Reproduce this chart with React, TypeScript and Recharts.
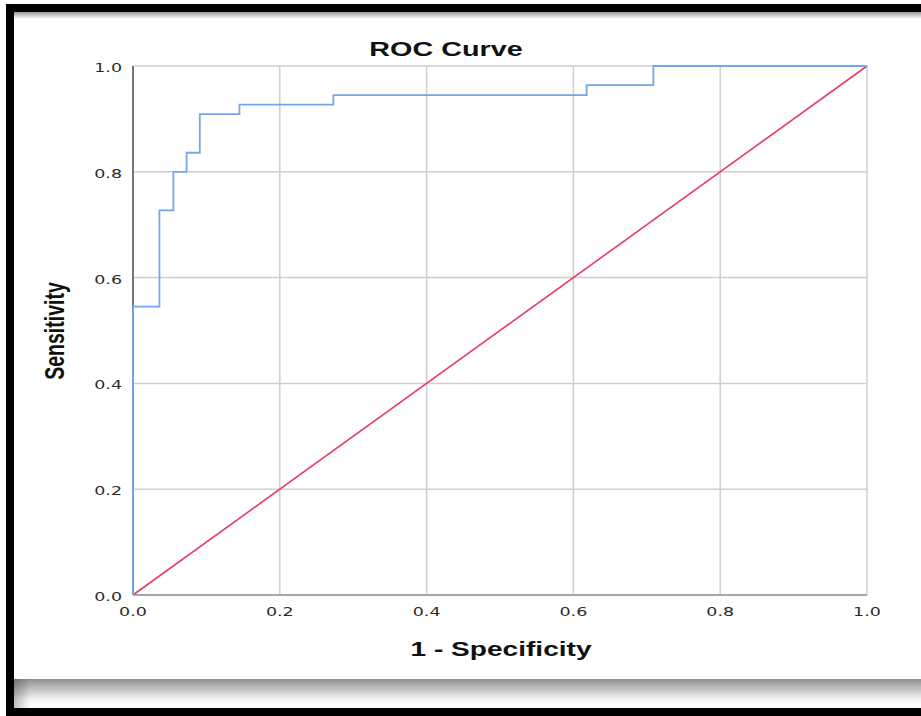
import { LineChart, Line, XAxis, YAxis, CartesianGrid, ReferenceLine } from 'recharts'

// ROC operating points (1 - specificity, sensitivity)
const fpr = [0, 0, 0.036, 0.055, 0.073, 0.091, 0.145, 0.273, 0.618, 0.709, 1]
const tpr = [0, 0.545, 0.727, 0.8, 0.836, 0.909, 0.927, 0.945, 0.964, 1, 1]
// reference diagonal
const refX = [0, 1]
const refY = [0, 1]
const ticks = [0, 0.2, 0.4, 0.6, 0.8, 1]

const rocData = fpr.map((x, i) => ({ x, y: tpr[i] }))
const refData = refX.map((x, i) => ({ x, y: refY[i] }))

const TICK_FONT = '"DejaVu Sans", sans-serif'
const TITLE_FONT = '"Liberation Sans", Arial, sans-serif'

function XTick({ x, y, payload }: any) {
  return (
    <text transform={`translate(${x},${y + 19}) scale(1.4,1)`} textAnchor="middle"
      fontFamily={TICK_FONT} fontSize={12.5} fill="#2a2a2a">
      {Number(payload.value).toFixed(1)}
    </text>
  )
}

function YTick({ x, y, payload }: any) {
  return (
    <text transform={`translate(${x - 9},${y + 6}) scale(1.4,1)`} textAnchor="end"
      fontFamily={TICK_FONT} fontSize={12.5} fill="#2a2a2a">
      {Number(payload.value).toFixed(1)}
    </text>
  )
}

const abs = (s: React.CSSProperties): React.CSSProperties => ({ position: 'absolute', ...s })

export default function App() {
  return (
    <div style={{ position: 'relative', width: 921, height: 716, background: '#fff', overflow: 'hidden' }}>
      <style>{'body{margin:0}'}</style>

      {/* frame */}
      <div style={abs({ left: 14, top: 12, width: 907, height: 7, background: 'linear-gradient(#9a9a9a, #fff)' })} />
      <div style={abs({ left: 14, top: 679, width: 907, height: 29, background: 'linear-gradient(#8e8e8e, #f4f4f4 70%, #fff)' })} />
      <div style={abs({ left: 14, top: 679, width: 16, height: 29, background: 'linear-gradient(90deg, rgba(0,0,0,0.25), rgba(0,0,0,0))' })} />
      <div style={abs({ left: 6, top: 4, width: 915, height: 8, background: '#000' })} />
      <div style={abs({ left: 6, top: 4, width: 8, height: 712, background: '#000' })} />
      <div style={abs({ left: 6, top: 708, width: 915, height: 8, background: '#000' })} />

      <div style={abs({ left: 0, top: 0 })}>
        <LineChart width={921} height={716} margin={{ top: 66, right: 54, bottom: 91, left: 0 }}>
          <CartesianGrid stroke="#cfcfcf" strokeWidth={1.5} />
          <XAxis type="number" dataKey="x" domain={[0, 1]} ticks={ticks} height={30}
            axisLine={{ stroke: '#a6a6a6', strokeWidth: 2 }} tickLine={false} tickSize={0}
            tick={<XTick />} interval={0} />
          <YAxis type="number" dataKey="y" domain={[0, 1]} ticks={ticks} width={133}
            axisLine={false} tickLine={false} tickSize={0}
            tick={<YTick />} interval={0} />
          <ReferenceLine x={0} stroke="#555" strokeWidth={1.5} />
          <Line data={refData} dataKey="y" type="linear" stroke="#e63d62" strokeWidth={1.6}
            dot={false} isAnimationActive={false} />
          <Line data={rocData} dataKey="y" type="stepAfter" stroke="#74a6ea" strokeWidth={1.8}
            dot={false} isAnimationActive={false} />
        </LineChart>
      </div>

      <svg width={921} height={716} style={abs({ left: 0, top: 0, pointerEvents: 'none' })}>
        <text transform="translate(446,56) scale(1.37,1)" textAnchor="middle"
          fontFamily={TITLE_FONT} fontWeight="bold" fontSize={21} fill="#111">ROC Curve</text>
        <text transform="translate(501,656) scale(1.37,1)" textAnchor="middle"
          fontFamily={TITLE_FONT} fontWeight="bold" fontSize={20.5} fill="#111">1 - Specificity</text>
        <text transform="translate(64,331) scale(1.37,1) rotate(-90)" textAnchor="middle"
          fontFamily={TITLE_FONT} fontWeight="bold" fontSize={19.5} fill="#111">Sensitivity</text>
      </svg>
    </div>
  )
}
